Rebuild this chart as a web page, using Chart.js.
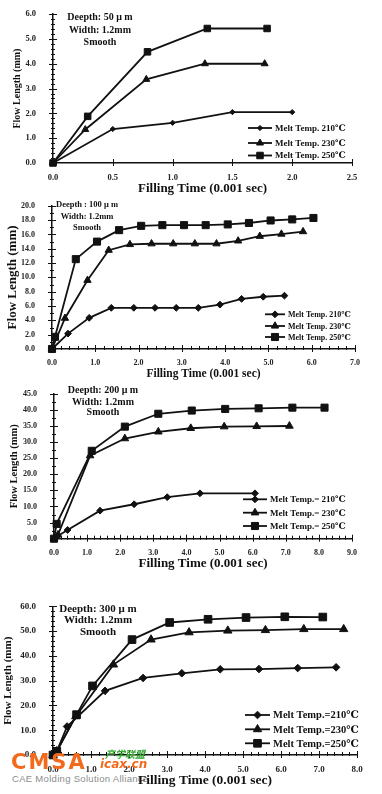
<!doctype html>
<html lang="en">
<head>
<meta charset="utf-8">
<title>Flow length vs filling time</title>
<style>
  * { margin: 0; padding: 0; }
  body { width: 382px; height: 794px; background: #fff; position: relative; overflow: hidden; }
  .box { position: absolute; left: 0; width: 382px; z-index: 1; }
  .wm { position: absolute; white-space: nowrap; line-height: 1; }
</style>
</head>
<body>
<div class="box" style="top:0;height:198px"><canvas id="c50"></canvas></div>
<div class="box" style="top:192px;height:191px"><canvas id="c100"></canvas></div>
<div class="box" style="top:380px;height:193px"><canvas id="c200"></canvas></div>
<div class="box" style="top:592px;height:199px"><canvas id="c300"></canvas></div>

<div class="wm" style="left:12px;top:773px;z-index:0;font:9.5px 'Liberation Sans';color:#8c8c8c;letter-spacing:0.3px">CAE Molding Solution Alliance</div>
<div class="wm" style="left:11px;top:750px;z-index:2;font:bold 21px 'DejaVu Sans';color:#f26b1d;letter-spacing:2px">CMSA</div>
<div class="wm" style="left:105px;top:746px;z-index:2;font:italic bold 10px 'Noto Sans CJK SC';color:#3aa835">产学联盟</div>
<div class="wm" style="left:100px;top:757px;z-index:2;font:italic bold 12px 'DejaVu Sans';color:#f26b1d">icax.cn</div>

<script src="https://cdn.jsdelivr.net/npm/chart.js/dist/chart.umd.min.js"></script>
<script>
// values: filling time (0.001 sec) and flow length (mm)
// 50 um deep
const t50_210 = [0, 0.5, 1.0, 1.5, 2.0];
const len50_210 = [0, 1.37, 1.62, 2.05, 2.05];
const t50_230 = [0, 0.27, 0.78, 1.27, 1.77];
const len50_230 = [0, 1.35, 3.37, 4.0, 4.0];
const t50_250 = [0, 0.29, 0.79, 1.29, 1.79];
const len50_250 = [0, 1.88, 4.48, 5.42, 5.42];

// 100 um deep
const t100_210 = [0, 0.37, 0.86, 1.37, 1.89, 2.38, 2.87, 3.38, 3.88, 4.38, 4.88, 5.37];
const len100_210 = [0, 2.15, 4.35, 5.75, 5.75, 5.75, 5.75, 5.75, 6.2, 7.0, 7.3, 7.45];
const t100_230 = [0, 0.3, 0.82, 1.31, 1.8, 2.3, 2.8, 3.3, 3.8, 4.3, 4.8, 5.3, 5.8];
const len100_230 = [0, 4.3, 9.6, 13.8, 14.6, 14.7, 14.7, 14.7, 14.7, 15.1, 15.75, 16.05, 16.4];
const t100_250 = [0, 0.07, 0.55, 1.04, 1.55, 2.06, 2.55, 3.05, 3.55, 4.06, 4.55, 5.05, 5.55, 6.04];
const len100_250 = [0, 1.7, 12.55, 15.0, 16.6, 17.2, 17.3, 17.3, 17.3, 17.4, 17.6, 17.95, 18.1, 18.3];

// 200 um deep
const t200_210 = [0, 0.1, 0.41, 1.39, 2.42, 3.42, 4.41, 6.07];
const len200_210 = [0, 0.8, 2.7, 8.7, 10.7, 12.9, 14.1, 14.1];
const t200_230 = [0, 0.12, 1.09, 2.14, 3.15, 4.13, 5.14, 6.12, 7.11];
const len200_230 = [0, 1.2, 25.8, 31.1, 33.2, 34.3, 34.8, 34.9, 35.0];
const t200_250 = [0, 0.08, 1.14, 2.14, 3.15, 4.16, 5.17, 6.18, 7.2, 8.17];
const len200_250 = [0, 4.6, 27.3, 34.8, 38.8, 39.8, 40.3, 40.5, 40.7, 40.7];

// 300 um deep
const t300_210 = [0, 0.1, 0.37, 1.37, 2.37, 3.39, 4.4, 5.42, 6.44, 7.45];
const len300_210 = [0, 1.5, 11.5, 25.9, 31.1, 33.0, 34.6, 34.7, 35.1, 35.4];
const t300_230 = [0, 0.1, 0.6, 1.59, 2.58, 3.58, 4.6, 5.59, 6.6, 7.65];
const len300_230 = [0, 1.5, 15.6, 36.5, 46.6, 49.5, 50.2, 50.4, 50.8, 50.8];
const t300_250 = [0, 0.1, 0.62, 1.04, 2.08, 3.07, 4.08, 5.08, 6.1, 7.1];
const len300_250 = [0, 1.5, 16.3, 27.9, 46.6, 53.5, 54.8, 55.5, 55.8, 55.7];

// axis ranges: [max, major step, minor step]
const xAxis50 = [2.5, 0.5, 0.5], yAxis50 = [6, 1, 0.2];
const xAxis100 = [7, 1, 0.2], yAxis100 = [20, 2, 1];
const xAxis200 = [9, 1, 0.2], yAxis200 = [45, 5, 2.5];
const xAxis300 = [8, 1, 0.2], yAxis300 = [60, 10, 2];

const legend50 = ['Melt Temp. 210\u2103', 'Melt Temp. 230\u2103', 'Melt Temp. 250\u2103'];
const legend100 = ['Melt Temp. 210\u2103', 'Melt Temp. 230\u2103', 'Melt Temp. 250\u2103'];
const legend200 = ['Melt Temp.= 210\u2103', 'Melt Temp.= 230\u2103', 'Melt Temp.= 250\u2103'];
const legend300 = ['Melt Temp.=210\u2103', 'Melt Temp.=230\u2103', 'Melt Temp.=250\u2103'];

const note50 = ['Deepth: 50 \u03bc m', 'Width: 1.2mm', 'Smooth'];
const note100 = ['Deepth : 100 \u03bc m', 'Width: 1.2mm', 'Smooth'];
const note200 = ['Deepth: 200 \u03bc m', 'Width: 1.2mm', 'Smooth'];
const note300 = ['Deepth: 300 \u03bc m', 'Width: 1.2mm', 'Smooth'];

const markers = ['rectRot', 'triangle', 'rect'];
const ink = '#111';
const serif = "'Liberation Serif', 'DejaVu Serif', serif";

function isMajor(v, step) {
  return Math.abs(v / step - Math.round(v / step)) < 1e-6;
}

function drawMarker(ctx, style, r, x, y) {
  ctx.fillStyle = ink;
  ctx.strokeStyle = ink;
  ctx.lineWidth = 1;
  Chart.helpers.drawPoint(ctx, { pointStyle: style, radius: r, rotation: 0, borderWidth: 1 }, x, y);
}

// tick marks, inner legend and the depth note
function decor(cfg) {
  return {
    id: 'decor',
    afterDraw(chart) {
      const { ctx, chartArea: { left, bottom }, scales: { x, y } } = chart;
      ctx.save();
      ctx.strokeStyle = ink;
      ctx.lineWidth = 1;
      ctx.beginPath();
      x.ticks.forEach(t => {
        const px = Math.round(x.getPixelForValue(t.value)) + 0.5;
        const big = isMajor(t.value, cfg.xAxis[1]);
        ctx.moveTo(px, bottom - (big ? 4 : 3));
        ctx.lineTo(px, bottom + (big ? 3 : 1));
      });
      y.ticks.forEach(t => {
        const py = Math.round(y.getPixelForValue(t.value)) + 0.5;
        const big = isMajor(t.value, cfg.yAxis[1]);
        ctx.moveTo(left - (big ? 4 : 2), py);
        ctx.lineTo(left + (big ? 4 : 2), py);
      });
      ctx.stroke();

      // legend
      const lg = cfg.legendBox;
      ctx.font = `bold ${lg.size}px ${serif}`;
      ctx.textAlign = 'left';
      ctx.textBaseline = 'middle';
      cfg.legend.forEach((txt, i) => {
        const ly = lg.ys[i];
        ctx.lineWidth = 1.8;
        ctx.strokeStyle = ink;
        ctx.beginPath();
        ctx.moveTo(lg.x0, ly);
        ctx.lineTo(lg.x1, ly);
        ctx.stroke();
        drawMarker(ctx, markers[i], cfg.radius[i], (lg.x0 + lg.x1) / 2, ly);
        ctx.fillStyle = ink;
        ctx.fillText(txt, lg.x1 + 3, ly + 0.5);
      });

      // depth / width note
      const nt = cfg.noteBox;
      ctx.font = `bold ${nt.size}px ${serif}`;
      ctx.textAlign = 'center';
      cfg.note.forEach((txt, i) => {
        ctx.fillText(txt, nt.x, nt.ys[i]);
      });
      ctx.restore();
    }
  };
}

function panel(id, cfg) {
  const b = cfg.box;
  const datasets = cfg.series.map((s, i) => ({
    label: cfg.legend[i],
    data: s[0].map((v, k) => ({ x: v, y: s[1][k] })),
    showLine: true,
    borderColor: ink,
    backgroundColor: ink,
    borderWidth: 1.8,
    pointStyle: markers[i],
    pointRadius: cfg.radius[i],
    pointBorderWidth: 1,
    clip: false
  }));
  const tickFont = { family: serif, size: cfg.tickSize, weight: 'bold' };
  new Chart(document.getElementById(id), {
    type: 'scatter',
    data: { datasets },
    options: {
      responsive: true,
      maintainAspectRatio: false,
      animation: false,
      layout: { padding: { top: b.top, right: 382 - b.right, left: cfg.padL, bottom: 0 } },
      plugins: { legend: { display: false }, tooltip: { enabled: false } },
      scales: {
        x: {
          type: 'linear',
          min: 0,
          max: cfg.xAxis[0],
          afterFit: s => { s.height = b.h - b.bottom; },
          grid: { display: false },
          border: { display: true, color: ink, width: 1.5 },
          ticks: {
            stepSize: cfg.xAxis[2],
            autoSkip: false,
            maxRotation: 0,
            padding: 1.5,
            color: '#222',
            font: tickFont,
            callback: v => isMajor(v, cfg.xAxis[1]) ? v.toFixed(1) : ''
          },
          title: {
            display: true,
            text: 'Filling Time (0.001 sec)',
            color: ink,
            font: { family: serif, size: cfg.xTitle, weight: 'bold' },
            padding: { top: 2, bottom: 2 }
          }
        },
        y: {
          type: 'linear',
          min: 0,
          max: cfg.yAxis[0],
          afterFit: s => { s.width = b.left - cfg.padL; },
          grid: { display: false },
          border: { display: true, color: ink, width: 1.5 },
          ticks: {
            stepSize: cfg.yAxis[2],
            autoSkip: false,
            padding: 9,
            color: '#222',
            font: tickFont,
            callback: v => isMajor(v, cfg.yAxis[1]) ? v.toFixed(1) : ''
          },
          title: {
            display: true,
            text: 'Flow Length (mm)',
            color: ink,
            font: { family: serif, size: cfg.yTitle, weight: 'bold' },
            padding: { top: 2, bottom: 2 }
          }
        }
      }
    },
    plugins: [decor(cfg)]
  });
}

panel('c50', {
  box: { h: 198, top: 14, bottom: 163, left: 53, right: 352 },
  padL: 9, tickSize: 8.5, xTitle: 13, yTitle: 10,
  xAxis: xAxis50, yAxis: yAxis50,
  series: [[t50_210, len50_210], [t50_230, len50_230], [t50_250, len50_250]],
  radius: [2.6, 4, 4.6],
  legend: legend50,
  legendBox: { x0: 248, x1: 272, ys: [128, 143, 155.5], size: 9 },
  note: note50,
  noteBox: { x: 100, ys: [17.5, 30, 42], size: 10 }
});

panel('c100', {
  box: { h: 191, top: 8.7, bottom: 157, left: 52, right: 355 },
  padL: 3, tickSize: 8, xTitle: 11.5, yTitle: 13,
  xAxis: xAxis100, yAxis: yAxis100,
  series: [[t100_210, len100_210], [t100_230, len100_230], [t100_250, len100_250]],
  radius: [3.4, 4.2, 5],
  legend: legend100,
  legendBox: { x0: 265, x1: 285, ys: [122.3, 134, 145], size: 8 },
  note: note100,
  noteBox: { x: 87, ys: [13, 24.7, 35.3], size: 8.5 }
});

panel('c200', {
  box: { h: 193, top: 7, bottom: 158.7, left: 54, right: 352 },
  padL: 6, tickSize: 8, xTitle: 13, yTitle: 10.5,
  xAxis: xAxis200, yAxis: yAxis200,
  series: [[t200_210, len200_210], [t200_230, len200_230], [t200_250, len200_250]],
  radius: [3.4, 4.4, 5],
  legend: legend200,
  legendBox: { x0: 243, x1: 267, ys: [119.3, 132.7, 146], size: 9 },
  note: note200,
  noteBox: { x: 103, ys: [10.7, 22.3, 32.7], size: 10 }
});

panel('c300', {
  box: { h: 199, top: 8.7, bottom: 163, left: 53, right: 357 },
  padL: 0, tickSize: 9, xTitle: 13.5, yTitle: 11,
  xAxis: xAxis300, yAxis: yAxis300,
  series: [[t300_210, len300_210], [t300_230, len300_230], [t300_250, len300_250]],
  radius: [3.8, 4.8, 5.4],
  legend: legend300,
  legendBox: { x0: 245, x1: 270, ys: [123, 137.3, 151.3], size: 10.5 },
  note: note300,
  noteBox: { x: 98, ys: [17, 28.3, 39.7], size: 11 }
});
</script>
</body>
</html>
